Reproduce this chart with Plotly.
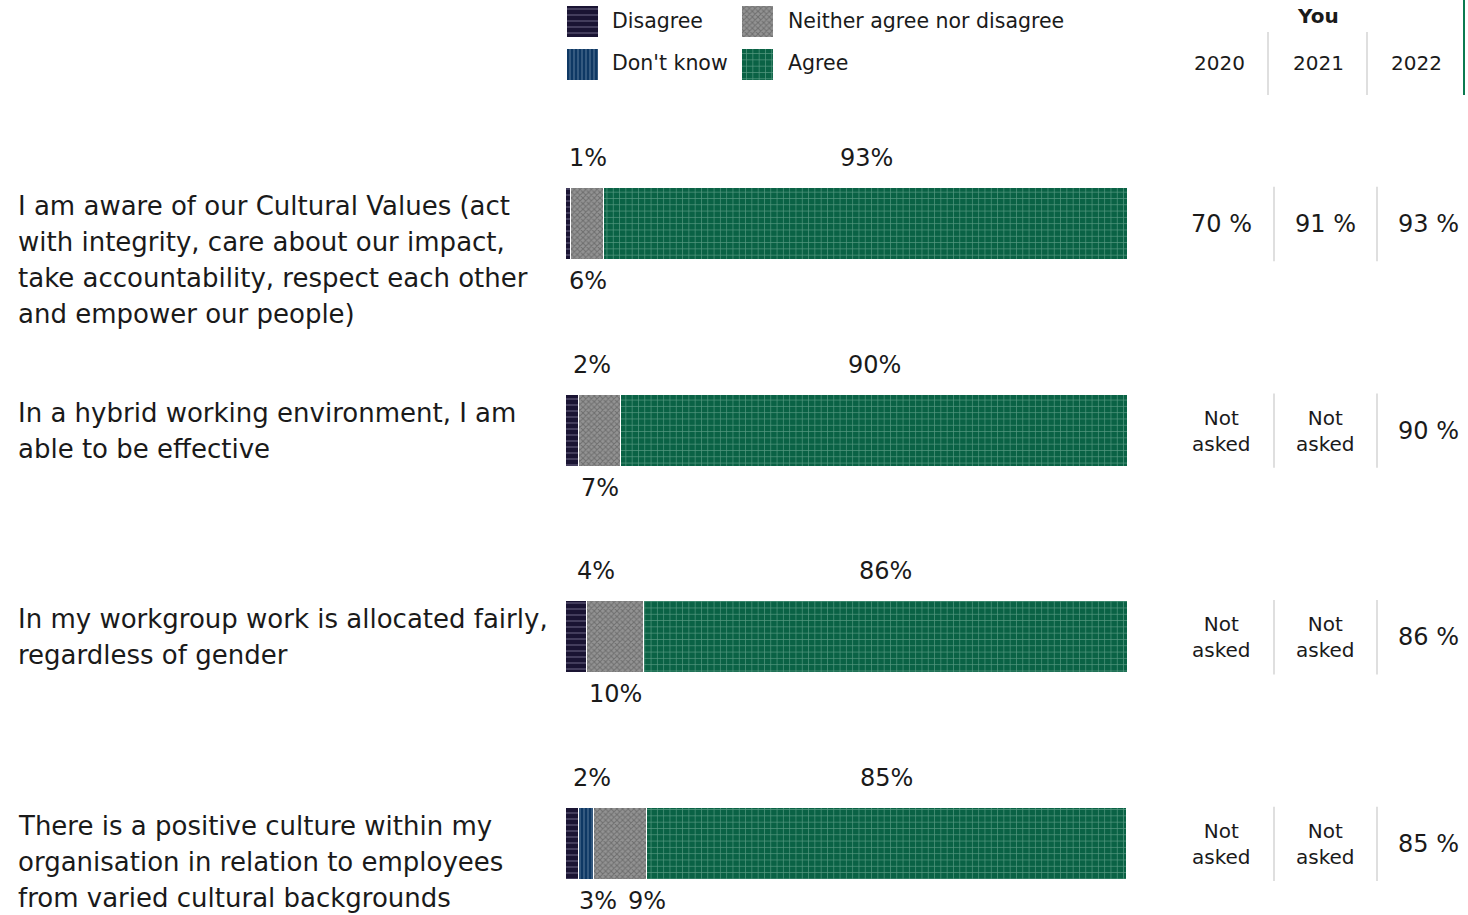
import plotly.graph_objects as go

W, H = 1468, 915

questions = [
    "I am aware of our Cultural Values (act<br>with integrity, care about our impact,<br>take accountability, respect each other<br>and empower our people)",
    "In a hybrid working environment, I am<br>able to be effective",
    "In my workgroup work is allocated fairly,<br>regardless of gender",
    "There is a positive culture within my<br>organisation in relation to employees<br>from varied cultural backgrounds",
]
disagree = [0.9, 2.4, 3.8, 2.4]
dont_know = [0.0, 0.0, 0.0, 2.6]
neither = [5.9, 7.4, 10.0, 9.4]
agree = [93.2, 90.2, 86.2, 85.4]

you_2020 = [70, None, None, None]
you_2021 = [91, None, None, None]
you_2022 = [93, 90, 86, 85]
years = ["2020", "2021", "2022"]

series_names = ["Disagree", "Don't know", "Neither agree nor disagree", "Agree"]
patterns = {
    "Disagree": dict(shape="-", bgcolor="#1a1433", fgcolor="#a29dbb", size=6, solidity=0.2, fillmode="overlay"),
    "Don't know": dict(shape="|", bgcolor="#0e3864", fgcolor="#a6bad0", size=4, solidity=0.25, fillmode="overlay"),
    "Neither agree nor disagree": dict(shape="x", bgcolor="#939393", fgcolor="#4a4a4a", size=4, solidity=0.45, fillmode="overlay"),
    "Agree": dict(shape="+", bgcolor="#0a6245", fgcolor="#a4d0bc", size=6.3, solidity=0.2, fillmode="overlay"),
}

FONT = "DejaVu Sans"
TXT = "#1a1a1a"

rows = list(range(len(questions)))
fig = go.Figure()

for name, vals in zip(series_names, [disagree, dont_know, neither, agree]):
    fig.add_trace(go.Bar(
        y=rows, x=vals, orientation="h", name=name, width=0.348,
        marker=dict(pattern=patterns[name], line=dict(color="white", width=1.2)),
        showlegend=False, hoverinfo="skip",
    ))

# legend swatches on an auxiliary pixel axis
leg_pos = {
    "Disagree": (582.5, 6, 610, 21),
    "Neither agree nor disagree": (757.5, 6, 786, 21),
    "Don't know": (582.5, 49, 610, 63),
    "Agree": (757.5, 49, 786, 63),
}
for name in series_names:
    cx, top, tx, ty = leg_pos[name]
    fig.add_trace(go.Bar(
        x=[cx], y=[31], base=[top], width=[31], xaxis="x2", yaxis="y2",
        marker=dict(pattern=patterns[name], line=dict(width=0)),
        showlegend=False, hoverinfo="skip",
    ))
    fig.add_annotation(x=tx, y=ty, xref="x2", yref="y2", text=name, showarrow=False,
                       xanchor="left", yanchor="middle", font=dict(size=20.5, family=FONT, color=TXT))

ann = []
PX = 100 / (1128 - 566)  # data units per px

for i in rows:
    for k, line in enumerate(questions[i].split("<br>")):
        ann.append(dict(x=16 / W, xref="paper", y=i, yref="y", text=line, showarrow=False,
                        xanchor="left", yanchor="middle", yshift=18 - 36 * k,
                        font=dict(size=26, family=FONT, color=TXT)))
    d, dk, n, a = disagree[i], dont_know[i], neither[i], agree[i]
    ann.append(dict(x=d / 2, y=i, text=f"{round(d)}%", showarrow=False, xanchor="center",
                    yanchor="middle", yshift=66, xshift=19, font=dict(size=24, family=FONT, color=TXT)))
    ann.append(dict(x=d + dk + n + a / 2, y=i, text=f"{round(a)}%", showarrow=False, xanchor="center",
                    yanchor="middle", yshift=66, font=dict(size=24, family=FONT, color=TXT)))
    below = []
    if dk > 0:
        below.append((d + dk / 2, f"{round(dk)}%"))
    below.append((d + dk + n / 2, f"{round(n)}%"))
    xs = [b[0] for b in below]
    if len(xs) == 2:
        xs[0] = xs[0] + 11 * PX
        xs[1] = max(xs[1], xs[0] + 49 * PX)
    for xv, (_, t) in zip(xs, below):
        ann.append(dict(x=xv, y=i, text=t, showarrow=False, xanchor="center", yanchor="middle",
                        yshift=-57, font=dict(size=24, family=FONT, color=TXT)))
    body_x = [1221, 1325, 1428]
    for j, vals in enumerate([you_2020, you_2021, you_2022]):
        v = vals[i]
        if v is None:
            ann.append(dict(x=body_x[j], xref="x2", y=i, yref="y", text="Not<br>asked", showarrow=False,
                            xanchor="center", yanchor="middle", font=dict(size=20, family=FONT, color=TXT)))
        else:
            ann.append(dict(x=body_x[j], xref="x2", y=i, yref="y", text=f"{v} %", showarrow=False,
                            xanchor="center", yanchor="middle", font=dict(size=24, family=FONT, color=TXT)))

ann.append(dict(x=1318, y=16, xref="x2", yref="y2", text="<b>You</b>", showarrow=False,
                xanchor="center", yanchor="middle", font=dict(size=20, family=FONT, color=TXT)))
for xv, yr in zip([1219, 1318, 1416], years):
    ann.append(dict(x=xv, y=63, xref="x2", yref="y2", text=yr, showarrow=False,
                    xanchor="center", yanchor="middle", font=dict(size=20, family=FONT, color=TXT)))

shapes = []
for xv in [1268, 1367]:
    shapes.append(dict(type="line", xref="x2", yref="y2", x0=xv, x1=xv, y0=32, y1=95,
                       line=dict(color="#d4d4d4", width=1.5)))
shapes.append(dict(type="line", xref="x2", yref="y2", x0=1464, x1=1464, y0=0, y1=95,
                   line=dict(color="#0b7a50", width=2)))
for i in rows:
    for xv in [1274, 1377]:
        shapes.append(dict(type="line", xref="x2", yref="y", x0=xv, x1=xv, y0=i - 0.18, y1=i + 0.18,
                           line=dict(color="#d4d4d4", width=1.5)))

fig.update_layout(
    width=W, height=H, margin=dict(l=0, r=0, t=0, b=0),
    plot_bgcolor="rgba(0,0,0,0)", paper_bgcolor="white", barmode="stack", bargap=0,
    xaxis=dict(domain=[566 / W, 1128 / W], range=[0, 100], visible=False, fixedrange=True),
    yaxis=dict(domain=[0, 1], range=[3.344, -1.084], visible=False, fixedrange=True),
    xaxis2=dict(domain=[0, 1], range=[0, W], visible=False, anchor="y2", fixedrange=True),
    yaxis2=dict(domain=[0, 1], range=[H, 0], visible=False, anchor="x2", fixedrange=True),
    annotations=fig.layout.annotations + tuple(ann),
    shapes=shapes,
    showlegend=False,
)

fig.write_html("out.html", config={"displayModeBar": False},
               post_script="document.body.style.margin='0';")
